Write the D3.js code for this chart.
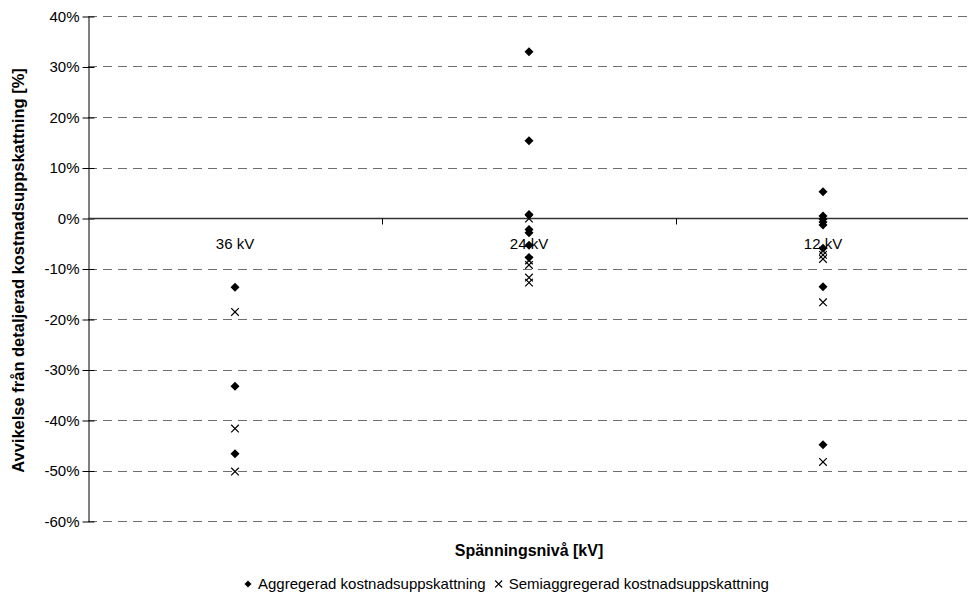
<html><head>
<script src="https://d3js.org/d3.v7.min.js"></script>
<style>
  body { margin: 0; background: #fff; }
  text { font-family: "Liberation Sans", Arial, sans-serif; fill: #000; }
</style>
</head>
<body>
<div id="chart"></div>
<script>

// data
const categories = ['36 kV', '24 kV', '12 kV'];
const aggregated = [
  [-13.7, -33.3, -46.7],
  [32.9, 15.3, 0.7, -2.3, -2.9, -5.4, -7.8],
  [5.2, 0.4, -0.2, -0.8, -1.4, -6.0, -13.6, -44.9]
];
const semiAggregated = [
  [-18.6, -41.7, -50.2],
  [-0.1, -8.4, -9.3, -11.8, -12.8],
  [-6.5, -7.3, -8.1, -16.7, -48.3]
];
const yTicks = [40, 30, 20, 10, 0, -10, -20, -30, -40, -50, -60];
const seriesNames = ['Aggregerad kostnadsuppskattning', 'Semiaggregerad kostnadsuppskattning'];

// layout
const W = 968, H = 602;
const plot = {left: 88, right: 970, top: 16, bottom: 521};

const svg = d3.select('#chart').append('svg')
  .attr('width', W)
  .attr('height', H);

const x = d3.scaleBand().domain(categories).range([plot.left, plot.right]);
const y = d3.scaleLinear().domain([-60, 40]).range([plot.bottom, plot.top]);
const cx = c => x(c) + x.bandwidth() / 2;

// marker shapes
const diamond = s => `M0,${-s}L${s},0L0,${s}L${-s},0Z`;
const cross = s => `M${-s},${-s}L${s},${s}M${-s},${s}L${s},${-s}`;

// gridlines
svg.append('g').selectAll('line')
  .data(yTicks.filter(t => t !== 0))
  .enter().append('line')
  .attr('x1', plot.left).attr('x2', W)
  .attr('y1', d => Math.round(y(d)) + 0.5).attr('y2', d => Math.round(y(d)) + 0.5)
  .style('stroke', '#6e6e6e')
  .style('stroke-width', 1)
  .style('stroke-dasharray', '9,6');

// y axis
const yAxis = d3.axisLeft(y)
  .tickValues(yTicks)
  .tickFormat(d => d + '%')
  .tickSizeInner(6)
  .tickSizeOuter(0)
  .tickPadding(3);
const gy = svg.append('g')
  .attr('transform', `translate(${plot.left + 0.5},0.5)`)
  .call(yAxis);
gy.select('.domain').style('stroke', '#000');
gy.selectAll('.tick line').attr('x1', 6).attr('x2', -6).style('stroke', '#000');
gy.selectAll('.tick text')
  .style('font-family', '"Liberation Sans", Arial, sans-serif')
  .style('font-size', '15px');

// zero line with category ticks
const zeroY = Math.round(y(0)) + 0.5;
svg.append('line')
  .attr('x1', plot.left).attr('x2', W)
  .attr('y1', zeroY).attr('y2', zeroY)
  .style('stroke', '#333')
  .style('stroke-width', 1.5);
svg.append('g').selectAll('line')
  .data(categories.slice(1))
  .enter().append('line')
  .attr('x1', d => Math.round(x(d)) + 0.5).attr('x2', d => Math.round(x(d)) + 0.5)
  .attr('y1', zeroY).attr('y2', zeroY + 6)
  .style('stroke', '#000');

// category labels
svg.append('g').selectAll('text')
  .data(categories)
  .enter().append('text')
  .attr('x', d => cx(d))
  .attr('y', zeroY + 30)
  .attr('text-anchor', 'middle')
  .style('font-size', '15px')
  .text(d => d);

// points
categories.forEach((c, i) => {
  svg.append('g').selectAll('path')
    .data(aggregated[i])
    .enter().append('path')
    .attr('d', diamond(4.5))
    .attr('transform', d => `translate(${cx(c)},${y(d)})`)
    .style('fill', '#000');
  svg.append('g').selectAll('path')
    .data(semiAggregated[i])
    .enter().append('path')
    .attr('d', cross(3.8))
    .attr('transform', d => `translate(${cx(c)},${y(d)})`)
    .style('fill', 'none')
    .style('stroke', '#000')
    .style('stroke-width', 1.2);
});

// axis titles
svg.append('text')
  .attr('transform', `translate(24,${(plot.top + plot.bottom) / 2 + 2}) rotate(-90)`)
  .attr('text-anchor', 'middle')
  .style('font-size', '16.5px')
  .style('font-weight', 'bold')
  .text('Avvikelse från detaljerad kostnadsuppskattning [%]');

svg.append('text')
  .attr('x', cx(categories[1]))
  .attr('y', 556)
  .attr('text-anchor', 'middle')
  .style('font-size', '16px')
  .style('font-weight', 'bold')
  .text('Spänningsnivå [kV]');

// legend
const legend = svg.append('g').attr('transform', 'translate(0,589)');
legend.append('path')
  .attr('d', diamond(3.5))
  .attr('transform', 'translate(248,-5)')
  .style('fill', '#000');
const t1 = legend.append('text')
  .attr('x', 258).attr('y', 0)
  .style('font-size', '15px')
  .text(seriesNames[0]);
const end1 = 258 + t1.node().getComputedTextLength();
legend.append('path')
  .attr('d', cross(3.5))
  .attr('transform', `translate(${end1 + 13},-5)`)
  .style('stroke', '#000')
  .style('stroke-width', 1.1);
legend.append('text')
  .attr('x', end1 + 23).attr('y', 0)
  .style('font-size', '15px')
  .text(seriesNames[1]);

</script>
</body></html>
